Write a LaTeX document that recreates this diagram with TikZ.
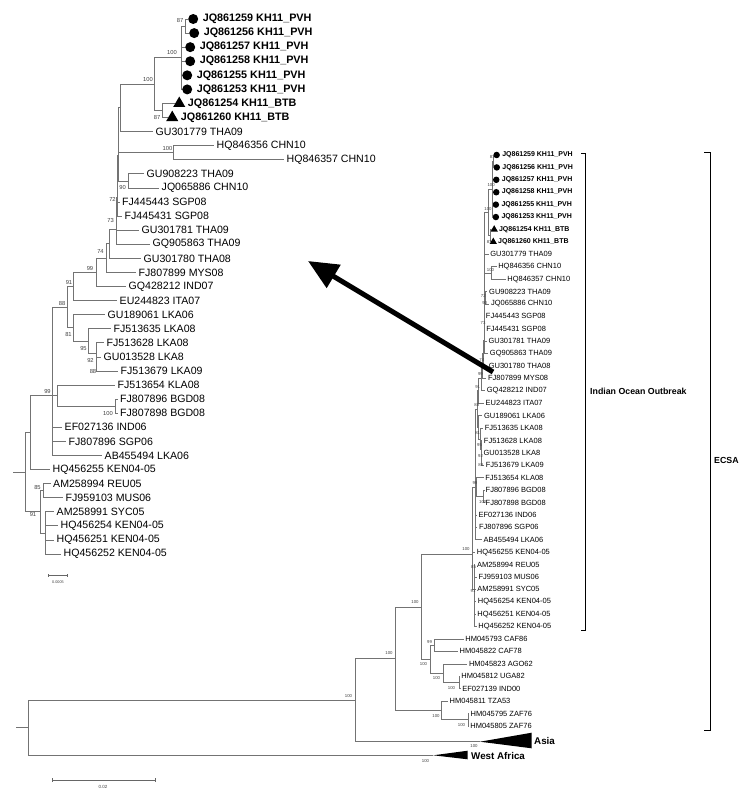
\documentclass[tikz,border=0pt]{standalone}
\usepackage{fontspec}
\setmainfont{Liberation Sans}
\usetikzlibrary{shapes.geometric,arrows.meta}
\newcommand\setfs[1]{\fontsize{#1}{#1}\selectfont}
% Indian Ocean lineage subtree, drawn in the coordinates of the left (enlarged) tree
\newcommand\iotree[3]{%
\foreach \i/\xe/\lbl in {8/153/GU301779 THA09,9/214/HQ846356 CHN10,10/284/HQ846357 CHN10,11/144/GU908223 THA09,12/159/JQ065886 CHN10,13/119.5/FJ445443 SGP08,14/122/FJ445431 SGP08,15/139/GU301781 THA09,16/150/GQ905863 THA09,17/141/GU301780 THA08,18/136/FJ807899 MYS08,19/126/GQ428212 IND07,20/117/EU244823 ITA07,21/105/GU189061 LKA06,22/111/FJ513635 LKA08,23/104/FJ513628 LKA08,24/101/GU013528 LKA8,25/118/FJ513679 LKA09,26/115/FJ513654 KLA08,27/117.5/FJ807896 BGD08,28/117.5/FJ807898 BGD08,29/62/EF027136 IND06,30/66/FJ807896 SGP06,31/102/AB455494 LKA06,32/50/HQ456255 KEN04-05,33/50.5/AM258994 REU05,34/63/FJ959103 MUS06,35/54/AM258991 SYC05,36/58/HQ456254 KEN04-05,37/54/HQ456251 KEN04-05,38/61/HQ456252 KEN04-05}{%
  \coordinate (#1L\i) at (\xe,{19+14.08*\i});
  \node[lf] (#1T\i) at (#1L\i) {\lbl};
}%
\foreach \i/\xe/\lbl in {0/188/JQ861259,1/189/JQ861256,2/185/JQ861257,3/185/JQ861258,4/182/JQ861255,5/182/JQ861253}{%
  \coordinate (#1L\i) at (\xe,{19+14.08*\i});
  \node[mkc] (#1M\i) at (#1L\i) {};
  \node[lfm] (#1T\i) at (#1M\i.east) {\lbl\ KH11\_PVH};
}%
\foreach \i/\xe/\lbl in {6/175/JQ861254,7/168/JQ861260}{%
  \coordinate (#1L\i) at (\xe,{19+14.08*\i});
  \node[mkt] (#1M\i) at (#1L\i) {};
  \node[lfm] (#1T\i) at (#1M\i.east) {\lbl\ KH11\_BTB};
}%
\foreach \nm/\xx/\yy in {A/185/26.04,B/181/57.72,D/162/110.52,C/154/84.12,E1/120/107.88,H/173/152.76,E2/118.5/130.32,G/128/180.92,E3/118/155.62,E4/117.5/178.83,E5/117/197.48,E6/116.8/213.84,E7/116.6/229.06,E8/109/243.71,N74/106/258.08,N99b/96/272.3,N91/73/286.45,A88b/96.5/363.96,A92/96/353.4,A95/88/341.08,A81/73/327.88,N88/67/307.17,BGD/115/406.2,S/57/395.64,N99/52/395.64,X/30/432.6,N85/43/490.68,K/45/532.92,N91r/40/511.8,R/25/472.2}{%
  \coordinate (#1\nm) at (\xx,\yy);
}%
\foreach \pa/\ch in {A/L0,A/L1,B/A,B/L2,B/L3,B/L4,B/L5,D/L6,D/L7,C/B,C/D,E1/C,E1/L8,H/L9,H/L10,E2/E1,E2/H,G/L11,G/L12,E3/E2,E3/G,E4/E3,E4/L13,E5/E4,E5/L14,E6/E5,E6/L15,E7/E6,E7/L16,E8/E7,E8/L17,N74/E8,N74/L18,N99b/N74,N99b/L19,N91/N99b,N91/L20,A88b/L24,A88b/L25,A92/L23,A92/A88b,A95/L22,A95/A92,A81/L21,A81/A95,N88/N91,N88/A81,BGD/L27,BGD/L28,S/L26,S/BGD,N99/N88,N99/S,N99/L29,N99/L30,N99/L31,X/N99,X/L32,N85/L33,N85/L34,K/L35,K/L36,K/L37,K/L38,N91r/N85,N91r/K,R/X,R/N91r}{%
  \draw[br] (#1\pa) |- (#1\ch);
}%
\foreach \xx/\yy/\v [count=\k] in {180/21/87,172/53/100,148/80/100,157/118/87,167.5/149/100,122.5/187/90,100.5/252/74,90/268/99,69/282/91,62/303/88,68.5/334/81,83.5/348/95,90.5/360/92,93/371/88,47.5/391/99,108/413/100,37.5/487/85,33/514/91}{%
  \node[bs] (#1bs\k) at (\xx,\yy) {\v};
}%
\node[bs] (#1bsa) at (112.5,#2) {72};
\node[bs] (#1bsb) at (110.5,#3) {73};
}
\begin{document}
\begin{tikzpicture}[x=1pt,y=-1pt,
  brr/.style={draw=black!55, line width=0.6pt},
  rlf/.style={anchor=west, font=\setfs{7.5}, inner xsep=1.5pt, inner ysep=0.5pt},
  rbs/.style={font=\setfs{4.3}, inner sep=0pt, text=black!75},
  brk/.style={draw=black, line width=0.7pt},
  grp/.style={anchor=west, font=\setfs{8.8}\bfseries, inner sep=0pt},
  clade/.style={fill=black, draw=none}]
\fill[white] (0,0) rectangle (750,809);
\useasboundingbox (0,0) rectangle (750,809);

% ---------------- left enlarged tree ----------------
\begin{scope}[
  br/.style={draw=black!55, line width=0.8pt},
  lf/.style={anchor=west, font=\setfs{10.6}, inner xsep=2.5pt, inner ysep=1pt},
  lfm/.style={anchor=west, font=\setfs{10.8}\bfseries, inner xsep=4.2pt, inner ysep=1pt},
  mkc/.style={circle, fill=black, inner sep=0pt, minimum size=10pt, anchor=west},
  mkt/.style={regular polygon, regular polygon sides=3, fill=black, inner sep=0pt, minimum size=13.9pt, anchor=west},
  bs/.style={font=\setfs{5.8}, inner sep=0pt, text=black!75}]
\iotree{l}{199}{220}
\coordinate (lstub) at (13,472.2);
\draw[br] (lstub) -- (lR);
\end{scope}
% left scale bar
\coordinate (lsb1) at (48.3,575.7);
\coordinate (lsb2) at (67.7,575.7);
\draw[black!60, line width=0.5pt] (lsb1) -- (lsb2);
\draw[black!60, line width=0.5pt] ([yshift=1.5pt]lsb1) -- ([yshift=-1.5pt]lsb1);
\draw[black!60, line width=0.5pt] ([yshift=1.5pt]lsb2) -- ([yshift=-1.5pt]lsb2);
\node[font=\setfs{3.8}, inner sep=0pt, text=black!75] (lsbt) at (58,582.3) {0.0005};

% ---------------- right full tree ----------------
\begin{scope}[shift={(468.75,138.25)}, xscale=0.13, yscale=0.8814,
  br/.style={draw=black!55, line width=0.6pt},
  lf/.style={anchor=west, font=\setfs{7.5}, inner xsep=1.5pt, inner ysep=0.5pt},
  lfm/.style={anchor=west, font=\setfs{7}\bfseries, inner xsep=2pt, inner ysep=0.5pt},
  mkc/.style={circle, fill=black, inner sep=0pt, minimum size=6.5pt, anchor=west},
  mkt/.style={regular polygon, regular polygon sides=3, fill=black, inner sep=0pt, minimum size=8.5pt, anchor=west},
  bs/.style={font=\setfs{4.3}, inner sep=0pt, text=black!75}]
\iotree{r}{178.6}{209.6}
\end{scope}

% remaining ECSA leaves
\foreach \j/\xe/\lbl in {39/463.7/HM045793 CAF86,40/458/HM045822 CAF78,41/467.3/HM045823 AGO62,42/459.7/HM045812 UGA82,43/460.7/EF027139 IND00,44/448/HM045811 TZA53,45/469/HM045795 ZAF76,46/468.7/HM045805 ZAF76}{%
  \coordinate (rL\j) at (\xe,{155+12.41*\j});
  \node[rlf] (rT\j) at (rL\j) {\lbl};
}
\foreach \nm/\xx/\yy in {N421/421/606.8,N430/430/659.15,N99r/434/645.2,N443/443/673.1,NUI/459/682.4,NTZ/441.7/710.35,NZAF/468.3/719.7,N395/395/658.6,N355/355/700.1,Nroot/28/727.7}{%
  \coordinate (\nm) at (\xx,\yy);
}
\coordinate (rstub) at (16,727.7);
\coordinate (asiatip) at (480,741.7);
\coordinate (asiatop) at (531.7,732.7);
\coordinate (asiabot) at (531.7,748.3);
\coordinate (watip) at (433.3,755.3);
\coordinate (watop) at (467.7,750.7);
\coordinate (wabot) at (467.7,759.3);
\foreach \pa/\ch in {N421/rR,N421/N430,N430/N99r,N430/N443,N99r/rL39,N99r/rL40,N443/rL41,N443/NUI,NUI/rL42,NUI/rL43,NTZ/rL44,NTZ/NZAF,NZAF/rL45,NZAF/rL46,N395/N421,N395/NTZ,N355/N395,N355/asiatip,Nroot/N355,Nroot/watip}{%
  \draw[brr] (\pa) |- (\ch);
}
\draw[brr] (rstub) -- (Nroot);
\fill[clade] (asiatip) -- (asiatop) -- (asiabot) -- cycle;
\fill[clade] (watip) -- (watop) -- (wabot) -- cycle;
\node[anchor=west, font=\setfs{9.8}\bfseries, inner sep=0pt] (asia) at (534,740.5) {Asia};
\node[anchor=west, font=\setfs{9.8}\bfseries, inner sep=0pt] (wafr) at (471,756) {West Africa};
\foreach \xx/\yy/\v [count=\k] in {466/549/100,429.5/641.7/99,423.5/664/100,436.5/678/100,451.5/688/100,415/601.7/100,436/715.7/100,461.5/725/100,389/653/100,348.5/695.7/100,474/745.7/100,425.5/761/100}{%
  \node[rbs] (rb\k) at (\xx,\yy) {\v};
}
% bottom scale bar
\coordinate (sb1) at (52,780);
\coordinate (sb2) at (155,780);
\draw[black!60, line width=0.6pt] (sb1) -- (sb2);
\draw[black!60, line width=0.6pt] ([yshift=2pt]sb1) -- ([yshift=-2pt]sb1);
\draw[black!60, line width=0.6pt] ([yshift=2pt]sb2) -- ([yshift=-2pt]sb2);
\node[font=\setfs{4.5}, inner sep=0pt, text=black!75] (sbt) at (103,786.5) {0.02};

% brackets
\coordinate (io1) at (581,153.3);
\coordinate (io2) at (585,153.3);
\coordinate (io3) at (585,630);
\coordinate (io4) at (581,630);
\draw[brk] (io1) -- (io2) -- (io3) -- (io4);
\node[grp] (iolab) at (590,391.5) {Indian Ocean Outbreak};
\coordinate (ec1) at (704,152.5);
\coordinate (ec2) at (710,152.5);
\coordinate (ec3) at (710,730);
\coordinate (ec4) at (704,730);
\draw[brk] (ec1) -- (ec2) -- (ec3) -- (ec4);
\node[grp] (eclab) at (714,460) {ECSA};

% pointer arrow
\coordinate (atail) at (493,372);
\coordinate (ahead) at (308,261);
\draw[line width=5pt, -{Triangle[length=30pt,width=26pt]}] (atail) -- (ahead);
\end{tikzpicture}
\end{document}
